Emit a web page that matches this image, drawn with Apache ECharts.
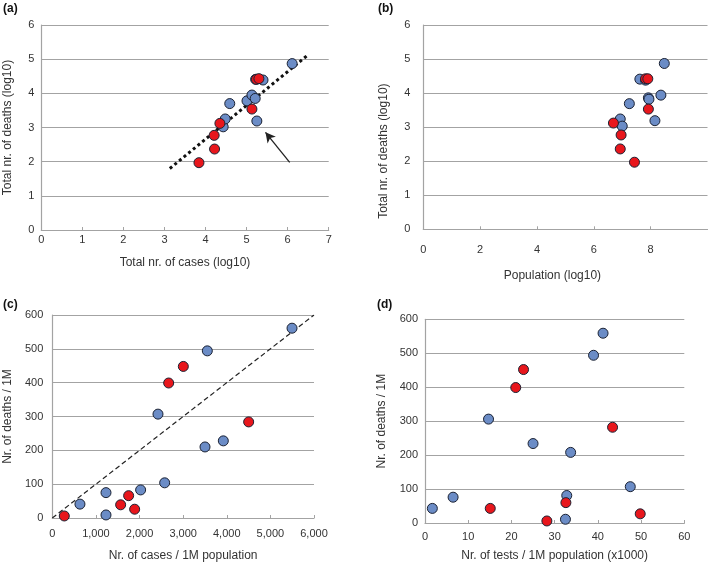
<!DOCTYPE html>
<html>
<head>
<meta charset="utf-8">
<script src="https://cdn.jsdelivr.net/npm/echarts@6/dist/echarts.min.js"></script>
<style>
html,body{margin:0;padding:0;background:#fff;}
#chart{width:709px;height:563px;}
</style>
</head>
<body>
<div id="chart"></div>
<script>
// ---- Panel (a): log10 cases vs log10 deaths
var aBlue = [[4.43,3.02],[4.48,3.25],[4.59,3.70],[5.01,3.78],[5.13,3.95],[5.21,3.85],[5.25,3.19],[5.22,4.41],[5.40,4.39],[6.11,4.87]];
var aRed = [[3.84,1.97],[4.22,2.37],[4.21,2.77],[4.35,3.12],[5.13,3.54],[5.24,4.41],[5.30,4.43]];
var aTrend = [[3.13,1.80],[6.47,5.10]];
var aArrow = [[6.05,1.98],[5.46,2.86]];
// ---- Panel (b): log10 population vs log10 deaths
var bBlue = [[6.93,3.24],[7.00,3.03],[7.25,3.69],[7.62,4.41],[7.82,4.38],[7.92,3.86],[7.94,3.82],[8.36,3.94],[8.15,3.19],[8.48,4.87]];
var bRed = [[6.69,3.12],[6.96,2.77],[6.93,2.36],[7.43,1.97],[7.92,3.53],[7.82,4.42],[7.90,4.42]];
// ---- Panel (c): cases per 1M vs deaths per 1M
var cBlue = [[634,41],[1231,75],[1231,9],[2025,83],[2576,104],[2423,307],[3501,210],[3921,228],[3554,494],[5496,561]];
var cRed = [[275,6],[1567,39],[1750,66],[1888,26],[2668,399],[3004,448],[4502,284]];
var cDiag = [[0,0],[6000,600]];
// ---- Panel (d): tests per 1M (x1000) vs deaths per 1M
var dBlue = [[1.7,43],[6.5,76],[14.7,306],[25.0,234],[32.5,11],[32.8,81],[33.7,208],[39.0,494],[41.2,559],[47.5,107]];
var dRed = [[15.1,43],[21.0,399],[22.8,452],[28.2,6],[32.6,60],[43.4,282],[49.8,27]];

var panelLabels = ['(a)','(b)','(c)','(d)'];
var xTitles = ['Total nr. of cases (log10)','Population (log10)','Nr. of cases / 1M population','Nr. of tests / 1M population (x1000)'];
var yTitles = ['Total nr. of deaths (log10)','Total nr. of deaths (log10)','Nr. of deaths / 1M','Nr. of deaths / 1M'];

var FONT = 'Liberation Sans, Arial, Helvetica, sans-serif';
var BLUE = '#6b8cc6', RED = '#e8161c', EDGE = '#1b2233';
var GRID = '#a3a3a3';

function xAxis(i, min, max, interval, margin, nameGap, extra) {
  var ax = {
    gridIndex: i, type: 'value', min: min, max: max, interval: interval,
    name: xTitles[i], nameLocation: 'middle', nameGap: nameGap,
    nameTextStyle: {fontFamily: FONT, fontSize: 12, color: '#333'},
    axisLine: {show: true, lineStyle: {color: GRID, width: 1.2}},
    axisTick: {show: true, inside: true, length: 3, lineStyle: {color: GRID}},
    axisLabel: {fontFamily: FONT, fontSize: 11, color: '#333', margin: margin},
    splitLine: {show: false}
  };
  if (extra) { for (var k in extra) ax[k] = extra[k]; }
  return ax;
}
function yAxis(i, min, max, interval, margin, nameGap, extra) {
  var ax = {
    gridIndex: i, type: 'value', min: min, max: max, interval: interval,
    name: yTitles[i], nameLocation: 'middle', nameGap: nameGap,
    nameTextStyle: {fontFamily: FONT, fontSize: 12, color: '#333'},
    axisLine: {show: true, lineStyle: {color: GRID, width: 1.2}},
    axisTick: {show: false},
    axisLabel: {fontFamily: FONT, fontSize: 11, color: '#333', margin: margin},
    splitLine: {show: true, lineStyle: {color: GRID, width: 1.2}}
  };
  if (extra) { for (var k in extra) ax[k] = extra[k]; }
  return ax;
}
function pts(i, data, color) {
  return {
    type: 'scatter', xAxisIndex: i, yAxisIndex: i, data: data,
    symbolSize: 10, z: 3,
    itemStyle: {color: color, borderColor: EDGE, borderWidth: 1, opacity: 1}
  };
}
function thousands(v) { return String(v).replace(/\B(?=(\d{3})+(?!\d))/g, ','); }

var option = {
  animation: false,
  backgroundColor: '#fff',
  title: [
    {text: panelLabels[0], left: 1, top: 1},
    {text: panelLabels[1], left: 376, top: 1},
    {text: panelLabels[2], left: 1, top: 297},
    {text: panelLabels[3], left: 375, top: 297}
  ].map(function (t) { t.textStyle = {fontFamily: FONT, fontSize: 12, fontWeight: 'bold', color: '#111'}; t.padding = 2; return t; }),
  grid: [
    {left: 41.3, top: 25, width: 287.4, height: 205},
    {left: 423.3, top: 25, width: 284.2, height: 204.3},
    {left: 52.3, top: 315, width: 261.7, height: 204},
    {left: 425, top: 319.3, width: 259.3, height: 204}
  ],
  xAxis: [
    xAxis(0, 0, 7, 1, 4, 27),
    xAxis(1, 0, 10, 2, 15, 40, {
      axisLabel: {fontFamily: FONT, fontSize: 11, color: '#333', margin: 15, showMaxLabel: false},
      nameTextStyle: {fontFamily: FONT, fontSize: 12, color: '#333', padding: [0, 26, 0, 0]}
    }),
    xAxis(2, 0, 6000, 1000, 10, 32, {
      axisLabel: {fontFamily: FONT, fontSize: 11, color: '#333', margin: 10, formatter: thousands}
    }),
    xAxis(3, 0, 60, 10, 8, 27)
  ],
  yAxis: [
    yAxis(0, 0, 6, 1, 7, 28),
    yAxis(1, 0, 6, 1, 13, 34, {
      nameTextStyle: {fontFamily: FONT, fontSize: 12, color: '#333', padding: [0, 48, 0, 0]}
    }),
    yAxis(2, 0, 600, 100, 9, 39),
    yAxis(3, 0, 600, 100, 7, 37)
  ],
  series: [
    {
      type: 'line', xAxisIndex: 0, yAxisIndex: 0, data: aTrend, symbol: 'none', z: 2,
      lineStyle: {color: '#111', width: 3, type: [3, 3]}
    },
    {
      type: 'line', xAxisIndex: 0, yAxisIndex: 0, data: [], symbol: 'none', z: 4,
      markLine: {
        silent: true, symbol: ['none', 'arrow'], symbolSize: [8, 10],
        label: {show: false},
        lineStyle: {color: '#222', width: 1.3, type: 'solid'},
        data: [[{coord: aArrow[0]}, {coord: aArrow[1]}]]
      }
    },
    pts(0, aBlue, BLUE), pts(0, aRed, RED),
    pts(1, bBlue, BLUE), pts(1, bRed, RED),
    {
      type: 'line', xAxisIndex: 2, yAxisIndex: 2, data: cDiag, symbol: 'none', z: 2,
      lineStyle: {color: '#222', width: 1.2, type: [5, 3]}
    },
    pts(2, cBlue, BLUE), pts(2, cRed, RED),
    pts(3, dBlue, BLUE), pts(3, dRed, RED)
  ]
};
var chart = echarts.init(document.getElementById('chart'), null, {renderer: 'canvas'});
chart.setOption(option);
</script>
</body>
</html>
